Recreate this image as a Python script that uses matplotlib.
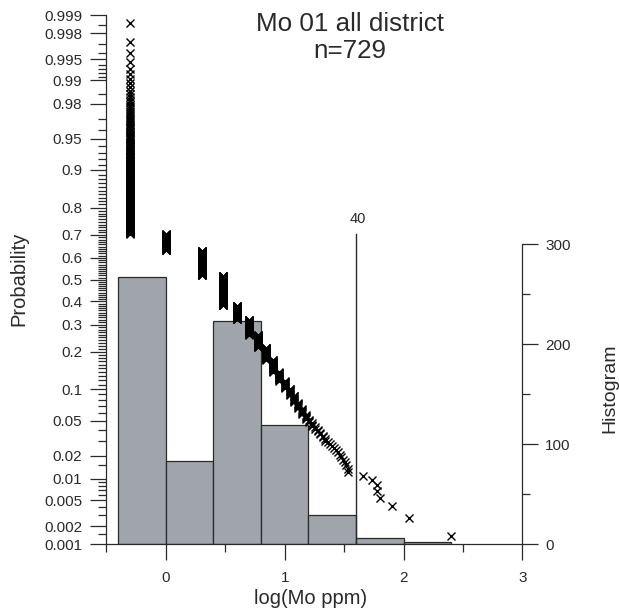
import numpy as np
import matplotlib
matplotlib.use('Agg')
import matplotlib.pyplot as plt
from statistics import NormalDist

plt.rcParams['font.family'] = ['Liberation Sans', 'DejaVu Sans']

# Mo assay values (ppm) and how many samples carry each value
mo_ppm = [0.5, 1, 2, 3, 4, 5, 6, 7, 8, 9, 10, 11, 12, 13, 14, 15,
          16, 17, 18, 19, 20, 21, 22, 23, 24, 25, 26, 27, 28, 29, 30,
          31, 32, 33, 34, 46, 54, 60, 63, 80, 112, 250]
n_samples = [216, 51, 83, 101, 44, 45, 33, 29, 25, 16, 12, 10, 9, 7, 6, 5,
             3, 3, 2, 2, 2, 2, 2, 1, 1, 1, 1, 1, 1, 1, 1,
             1, 1, 1, 2, 1, 1, 2, 1, 1, 1, 1]

hist_edges = [-0.4, 0, 0.4, 0.8, 1.2, 1.6, 2.0, 2.4]
threshold_ppm = 40

prob_major = [0.001, 0.002, 0.005, 0.01, 0.02, 0.05, 0.1, 0.2, 0.3, 0.4, 0.5,
              0.6, 0.7, 0.8, 0.9, 0.95, 0.98, 0.99, 0.995, 0.998, 0.999]
prob_minor = [0.0015, 0.003, 0.004, 0.006, 0.007, 0.008, 0.009, 0.015, 0.03, 0.04,
              0.06, 0.07, 0.08, 0.09]
prob_minor += [round(k / 100, 2) for k in range(11, 90) if k % 10 != 0]
prob_minor += [0.91, 0.92, 0.93, 0.94, 0.96, 0.97, 0.985, 0.991, 0.992, 0.993,
               0.994, 0.996, 0.997, 0.9985]

# expand to samples, sort, plotting position (exceedance) i/(n+1)
values = np.repeat(np.array(mo_ppm, float), n_samples)
logv = np.sort(np.log10(values))
n = len(logv)
prob = 1 - np.arange(1, n + 1) / (n + 1)

# histogram, right-closed bins
idx = np.searchsorted(hist_edges, logv, side='left') - 1
hist = np.bincount(idx, minlength=len(hist_edges) - 1)

nd = NormalDist()
_ppf = np.vectorize(nd.inv_cdf, otypes=[float])
_cdf = np.vectorize(nd.cdf, otypes=[float])


def prob_fwd(p):
    return _ppf(np.clip(np.asarray(p, float), 1e-9, 1 - 1e-9))


def prob_inv(z):
    return _cdf(np.asarray(z, float))


ink = '#2a2a2a'
fig = plt.figure(figsize=(6.19, 6.14), dpi=100)
ax = fig.add_axes([106.4 / 619, 69.7 / 614, 416 / 619, 529.3 / 614])
ax2 = ax.twinx()
ax.set_zorder(ax2.get_zorder() + 1)
ax.patch.set_visible(False)

ax.set_yscale('function', functions=(prob_fwd, prob_inv))
ax.set_ylim(0.001, 0.999)
ax.set_xlim(-0.5, 3)

# histogram on right axis
ax2.bar(hist_edges[:-1], hist, width=np.diff(hist_edges), align='edge',
        color='#a0a5ab', edgecolor=ink, linewidth=0.9)
ax2.set_ylim(0, 529.3)
thr = np.log10(threshold_ppm)
ax2.plot([thr, thr], [0, 310], color=ink, lw=1.0)
ax2.text(thr + 0.015, 325, str(threshold_ppm), ha='center', va='center',
         fontsize=10.5, color=ink)

# probability plot
ax.plot(logv, prob, 'x', ms=5.5, mew=1.0, color='black', clip_on=False)

# spines
for s in ['top', 'right']:
    ax.spines[s].set_visible(False)
for s in ['top', 'left', 'bottom']:
    ax2.spines[s].set_visible(False)
ax2.spines['right'].set_bounds(0, 300)
for sp in [ax.spines['left'], ax.spines['bottom'], ax2.spines['right']]:
    sp.set_color(ink)
    sp.set_linewidth(0.9)

ax.set_xticks([0, 1, 2, 3])
ax.set_xticklabels(['0', '1', '2', '3'])
ax.set_xticks([-0.5, 0.5, 1.5, 2.5], minor=True)
ax.set_yticks(prob_major)
ax.set_yticklabels([str(p) for p in prob_major])
ax.set_yticks(prob_minor, minor=True)
ax.yaxis.set_minor_formatter(matplotlib.ticker.NullFormatter())

ax2.set_yticks([0, 100, 200, 300])
ax2.set_yticks([50, 150, 250], minor=True)

for a in [ax, ax2]:
    a.tick_params(which='major', direction='out', length=11.5, width=0.9,
                  color=ink, labelcolor=ink, labelsize=11)
    a.tick_params(which='minor', direction='out', length=5.8, width=0.9, color=ink)
ax.tick_params(axis='x', pad=8)
ax.tick_params(axis='y', pad=6)
ax2.tick_params(axis='y', pad=5)

fig.text(350 / 619, 1 - 31 / 614, 'Mo 01 all district', ha='center', va='baseline',
         fontsize=18.7, color=ink)
fig.text(350 / 619, 1 - 58 / 614, 'n=729', ha='center', va='baseline',
         fontsize=18.7, color=ink)
fig.text(19 / 619, 1 - 279 / 614, 'Probability', rotation=90, ha='center',
         va='center', fontsize=14.5, color=ink)
fig.text(610 / 619, 1 - 388 / 614, 'Histogram', rotation=90, ha='center',
         va='center', fontsize=14, color=ink)
fig.text(311 / 619, 1 - 598 / 614, 'log(Mo ppm)', ha='center', va='center',
         fontsize=14.5, color=ink)

fig.savefig('out.png', dpi=100)
